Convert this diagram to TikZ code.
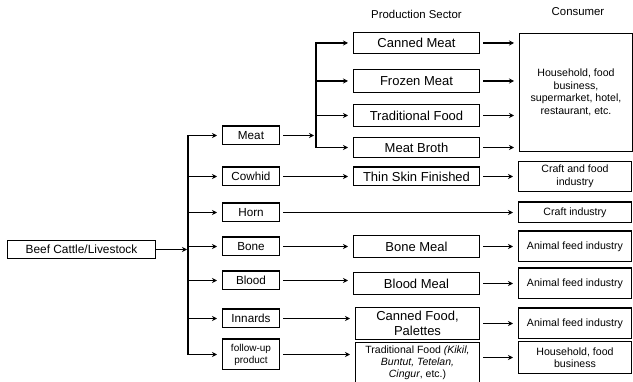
\documentclass[tikz,border=0pt]{standalone}
\usepackage{fontspec}
\setmainfont{Liberation Sans}
\usetikzlibrary{positioning,arrows.meta}

\begin{document}
\begin{tikzpicture}[
>={Stealth[length=5pt,width=5pt]},
node distance=14pt,
box/.style={
draw,
line width=1.4pt,
inner sep=1pt,
align=center
},
part/.style={
box,
minimum width=56.6pt,
minimum height=18.6pt,
font=\fontsize{11.7}{13}\selectfont
},
prod/.style={
box,
minimum width=125.6pt,
minimum height=20.6pt,
font=\fontsize{13}{15}\selectfont
},
cons/.style={
box,
minimum width=112.6pt,
minimum height=30.6pt,
font=\fontsize{10.6}{12.5}\selectfont
},
head/.style={
font=\fontsize{11.4}{13}\selectfont
},
arrow/.style={
->,
line width=1.1pt,
shorten <=3pt,
shorten >=5pt
},
trunk/.style={
line width=1.1pt,
line cap=rect
}
]

\useasboundingbox (0,0) rectangle (633pt,-382pt);

%%%%%%%%%%%%%%%%%%%%%%%%%%%%%%%%%%%%%%%%%%%%%
% Source and Parts
%%%%%%%%%%%%%%%%%%%%%%%%%%%%%%%%%%%%%%%%%%%%%

\node[box, minimum width=147.6pt, minimum height=17.6pt,
font=\fontsize{11.9}{14}\selectfont] (cattle) at (81.5pt,-249.5pt)
{Beef Cattle/Livestock};

\node[part, right=66pt of cattle, yshift=3pt] (bone) {Bone};

\node[part, above=14pt of bone] (horn) {Horn};

\node[part, above=16pt of horn] (cowhid) {Cowhid};

\node[part, above=21pt of cowhid] (meat) {Meat};

\node[part, below=14pt of bone] (blood) {Blood};

\node[part, below=18pt of blood] (innards) {Innards};

\node[part, below=10pt of innards, minimum height=30.6pt,
font=\fontsize{10}{12}\selectfont] (followup)
{follow-up\\product};

%%%%%%%%%%%%%%%%%%%%%%%%%%%%%%%%%%%%%%%%%%%%%
% Production Sector
%%%%%%%%%%%%%%%%%%%%%%%%%%%%%%%%%%%%%%%%%%%%%

\node[prod, right=73pt of meat, yshift=92.5pt] (canned) {Canned Meat};

\node[prod, below=15pt of canned, minimum height=22.6pt] (frozen) {Frozen Meat};

\node[prod, below=11pt of frozen, minimum height=21.6pt] (tradmeat) {Traditional Food};

\node[prod, below=10pt of tradmeat, minimum height=19.6pt] (broth) {Meat Broth};

\node[prod, right=73pt of cowhid, minimum height=18.6pt] (thinskin) {Thin Skin Finished};

\node[prod, right=73pt of bone, minimum height=21.6pt] (bonemeal) {Bone Meal};

\node[prod, right=73pt of blood, yshift=-3pt, minimum height=21.6pt] (bloodmeal) {Blood Meal};

\node[prod, right=75pt of innards, yshift=-5pt, minimum width=123.6pt,
minimum height=31.6pt] (cannedfood)
{Canned Food,\\Palettes};

\node[prod, right=75pt of followup, yshift=-8.5pt, minimum width=123.6pt,
minimum height=40.6pt, font=\fontsize{10.5}{12}\selectfont] (tradfood)
{Traditional Food \textit{(Kikil,}\\
\textit{Buntut, Tetelan,}\\
\textit{Cingur}, etc.)};

%%%%%%%%%%%%%%%%%%%%%%%%%%%%%%%%%%%%%%%%%%%%%
% Consumers
%%%%%%%%%%%%%%%%%%%%%%%%%%%%%%%%%%%%%%%%%%%%%

\node[cons, anchor=north west, minimum height=117.6pt] (household)
at ([xshift=39pt,yshift=-1pt]canned.north east)
{Household, food\\
business,\\
supermarket, hotel,\\
restaurant, etc.};

\node[cons, right=38pt of thinskin, minimum height=29.6pt] (craftfood)
{Craft and food\\industry};

\node[cons, right=238pt of horn, minimum height=20.6pt] (craft) {Craft industry};

\node[cons, right=38pt of bonemeal] (feedbone) {Animal feed industry};

\node[cons, right=38pt of bloodmeal] (feedblood) {Animal feed industry};

\node[cons, right=38pt of cannedfood] (feedinnards) {Animal feed industry};

\node[cons, right=38pt of tradfood, yshift=5.5pt, minimum height=31.6pt] (household2)
{Household, food\\business};

\node[head] (prodhead) at ([yshift=29pt]canned.center) {Production Sector};

\node[head] (conshead) at ([xshift=2pt,yshift=21pt]household.north) {Consumer};

%%%%%%%%%%%%%%%%%%%%%%%%%%%%%%%%%%%%%%%%%%%%%
% Connections
%%%%%%%%%%%%%%%%%%%%%%%%%%%%%%%%%%%%%%%%%%%%%

\coordinate[right=32pt of cattle.east] (split);

\draw[arrow, shorten <=0pt, shorten >=1pt] (cattle) -- (split);

\draw[trunk] (split |- meat) -- (split |- followup);

\draw[arrow, shorten <=0pt] (split |- meat) -- (meat);
\draw[arrow, shorten <=0pt] (split |- cowhid) -- (cowhid);
\draw[arrow, shorten <=0pt] (split |- horn) -- (horn);
\draw[arrow, shorten <=0pt] (split |- bone) -- (bone);
\draw[arrow, shorten <=0pt] (split |- blood) -- (blood);
\draw[arrow, shorten <=0pt] (split |- innards) -- (innards);
\draw[arrow, shorten <=0pt] (split |- followup) -- (followup);

\coordinate[right=36pt of meat.east] (meatsplit);

\draw[arrow, shorten >=2pt] (meat) -- (meatsplit);

\draw[trunk] (meatsplit |- canned) -- (meatsplit |- broth);

\draw[arrow, shorten <=0pt] (meatsplit |- canned) -- (canned);
\draw[arrow, shorten <=0pt] (meatsplit |- frozen) -- (frozen);
\draw[arrow, shorten <=0pt] (meatsplit |- tradmeat) -- (tradmeat);
\draw[arrow, shorten <=0pt] (meatsplit |- broth) -- (broth);

\draw[arrow] (cowhid.east) -- (cowhid.east -| thinskin.west);
\draw[arrow] (horn) -- (craft);
\draw[arrow] (bone.east) -- (bone.east -| bonemeal.west);
\draw[arrow] (blood.east) -- (blood.east -| bloodmeal.west);
\draw[arrow] (innards.east) -- (innards.east -| cannedfood.west);
\draw[arrow] (followup.east) -- (followup.east -| tradfood.west);

\draw[arrow] (canned.east) -- (canned.east -| household.west);
\draw[arrow] (frozen.east) -- (frozen.east -| household.west);
\draw[arrow] (tradmeat.east) -- (tradmeat.east -| household.west);
\draw[arrow] (broth.east) -- (broth.east -| household.west);

\draw[arrow] (thinskin.east) -- (thinskin.east -| craftfood.west);
\draw[arrow] (bonemeal.east) -- (bonemeal.east -| feedbone.west);
\draw[arrow] (bloodmeal.east) -- (bloodmeal.east -| feedblood.west);
\draw[arrow] (cannedfood.east) -- (cannedfood.east -| feedinnards.west);
\draw[arrow] (tradfood.east |- household2) -- (household2);

\end{tikzpicture}
\end{document}
